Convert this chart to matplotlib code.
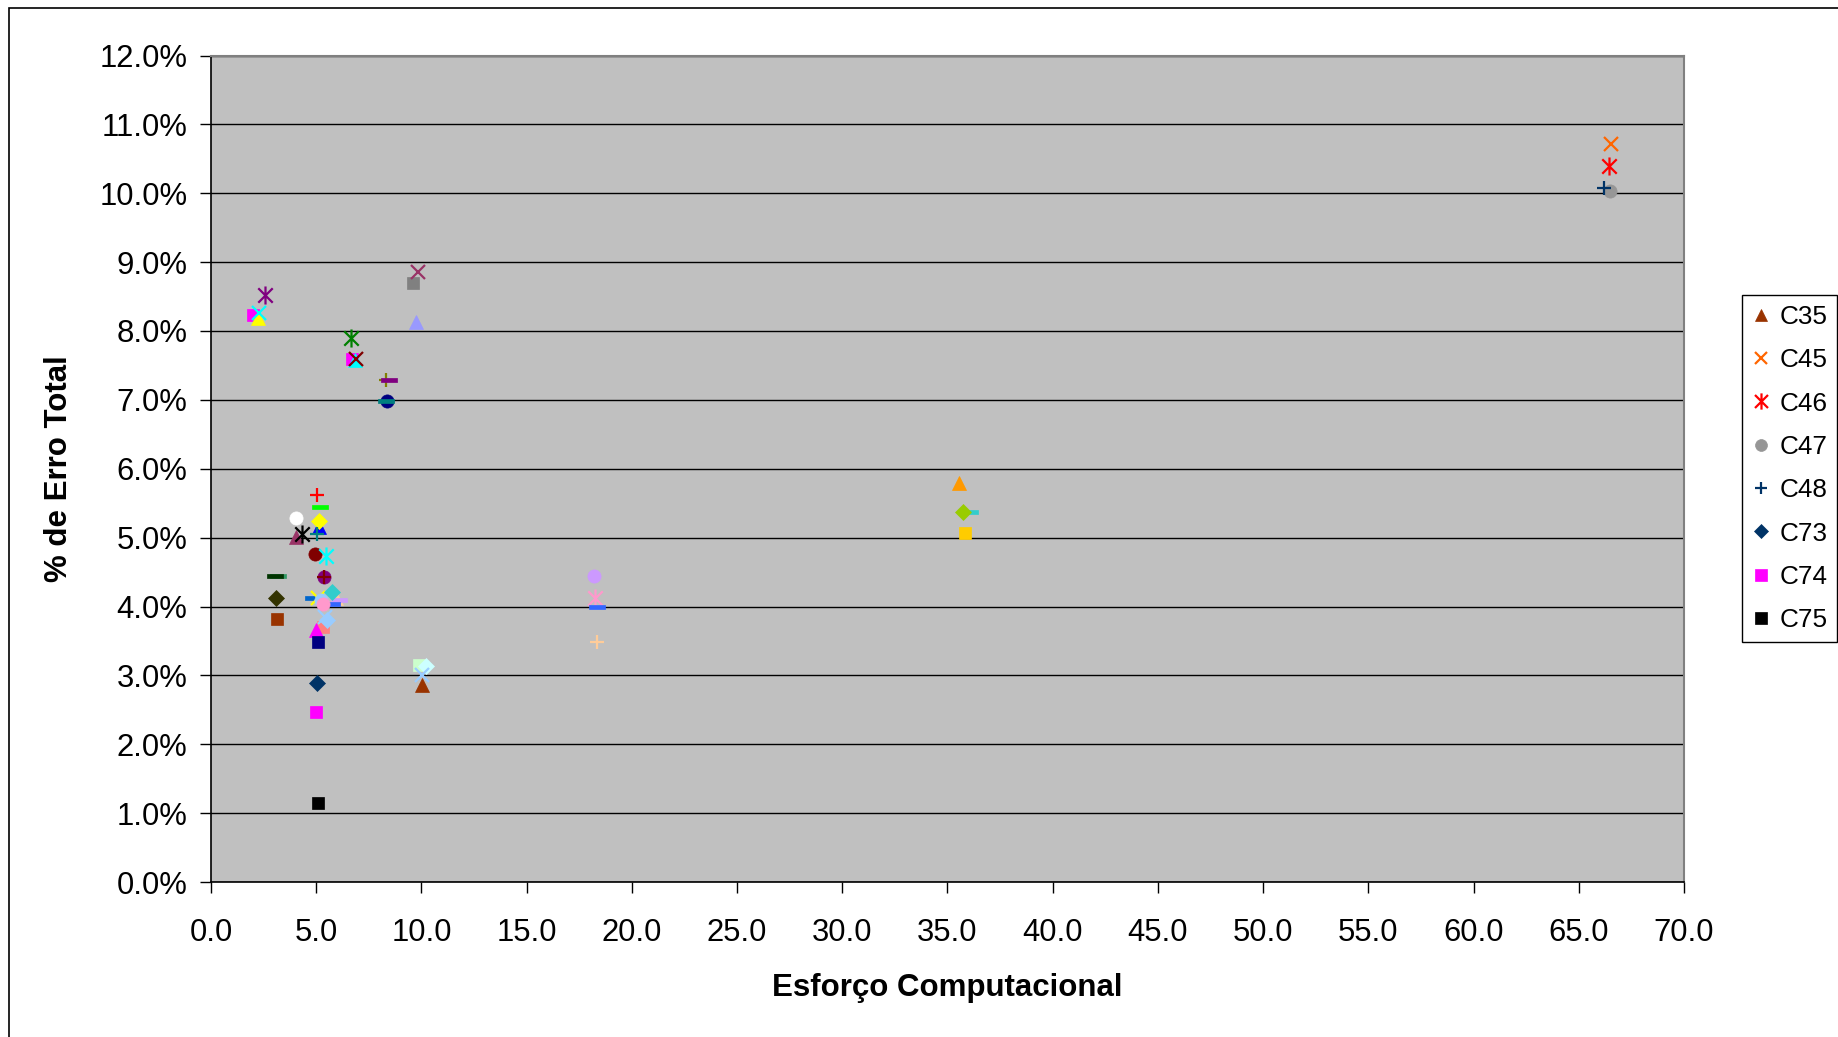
import matplotlib
matplotlib.use("Agg")
import matplotlib.pyplot as plt
from matplotlib.path import Path
from matplotlib.patches import Rectangle
from matplotlib.ticker import FuncFormatter

plt.rcParams['font.family'] = ['Liberation Sans', 'DejaVu Sans']

# ---- data (series shown in legend) ----
legend_names = ["C35", "C45", "C46", "C47", "C48", "C73", "C74", "C75"]
legend_x = [10.03, 66.54, 66.44, 66.49, 66.20, 5.04, 4.99, 5.09]
legend_y = [2.86, 10.71, 10.39, 10.03, 10.07, 2.89, 2.47, 1.15]

# ---- data (other series, not listed in legend) ----
other_x = [2.57, 2.00, 2.23, 2.28, 6.65, 6.70, 6.85, 6.90, 8.32, 8.46,
           9.60, 9.84, 9.74, 8.37, 8.30, 5.04, 5.18, 4.04, 5.13, 5.13,
           4.04, 4.32, 5.04, 4.94, 5.47, 3.18, 3.04, 5.37, 5.37, 3.09,
           3.14, 5.95, 6.10, 4.85, 5.10, 5.25, 5.75, 5.32, 5.75, 5.32,
           5.42, 5.51, 4.99, 5.09, 9.89, 10.20, 10.03, 18.20, 18.25, 18.35,
           18.35, 35.55, 36.07, 35.74, 35.84]
other_y = [8.52, 8.23, 8.19, 8.26, 7.90, 7.60, 7.58, 7.60, 7.29, 7.29,
           8.69, 8.85, 8.13, 6.98, 6.98, 5.62, 5.44, 5.28, 5.15, 5.24,
           5.01, 5.05, 5.05, 4.76, 4.73, 4.44, 4.44, 4.43, 4.43, 4.12,
           3.82, 4.12, 4.10, 4.12, 4.13, 4.10, 4.21, 3.70, 4.03, 4.03,
           3.85, 3.80, 3.66, 3.49, 3.15, 3.13, 3.00, 4.44, 4.12, 3.99,
           3.48, 5.79, 5.37, 5.37, 5.07]

x_ticks = [0, 5, 10, 15, 20, 25, 30, 35, 40, 45, 50, 55, 60, 65, 70]
y_ticks = [0, 1, 2, 3, 4, 5, 6, 7, 8, 9, 10, 11, 12]

# ---- styles ----
AST = Path([(0, -1), (0, 1), (-0.8, -0.8), (0.8, 0.8), (-0.8, 0.8), (0.8, -0.8)],
           [Path.MOVETO, Path.LINETO, Path.MOVETO, Path.LINETO, Path.MOVETO, Path.LINETO])
DASH = Path([(-1, -0.3), (1, -0.3), (1, 0.3), (-1, 0.3), (-1, -0.3)],
            [Path.MOVETO, Path.LINETO, Path.LINETO, Path.LINETO, Path.CLOSEPOLY])

legend_markers = ['^', 'x', AST, 'o', '+', 'D', 's', 's']
legend_colors = ['#993300', '#FF6600', '#FF0000', '#969696', '#003366',
                 '#003366', '#FF00FF', '#000000']

other_markers = [AST, 's', '^', 'x', AST, 's', '^', 'x', '+', DASH,
                 's', 'x', '^', 'o', DASH, '+', DASH, 'o', '^', 'D',
                 '^', AST, '+', 'o', AST, DASH, DASH, 'o', '+', 'D',
                 's', '^', DASH, DASH, 'x', 'o', 'D', 's', DASH, 'o',
                 'x', 'D', '^', 's', 's', 'D', 'x', 'o', AST, DASH,
                 '+', '^', DASH, 'D', 's']
other_colors = ['#800080', '#FF00FF', '#FFFF00', '#00FFFF', '#008000', '#FF00FF',
                '#00FFFF', '#800000', '#808000', '#800080',
                '#808080', '#993366', '#9999FF', '#000080', '#008080', '#FF0000',
                '#00FF00', '#FFFFFF', '#0000FF', '#FFFF00',
                '#993366', '#000000', '#008080', '#800000', '#00FFFF', '#339966',
                '#003300', '#800080', '#800000', '#333300',
                '#993300', '#FFCC99', '#CC99FF', '#0066CC', '#FFFF00', '#99CCFF',
                '#33CCCC', '#FF8080', '#3366FF', '#FF99CC',
                '#99CCFF', '#99CCFF', '#FF00FF', '#000080', '#CCFFCC', '#CCFFFF',
                '#99CCFF', '#CC99FF', '#FF99CC', '#3366FF',
                '#FFCC99', '#FF9900', '#33CCCC', '#99CC00', '#FFCC00']

LINE_MARKERS = ('x', '+')


def draw(ax, x, y, m, c, label):
    if m is AST:
        ax.plot([x], [y], linestyle='none', marker=m, markersize=13,
                markeredgecolor=c, markerfacecolor='none', markeredgewidth=1.6,
                label=label, zorder=3)
    elif m in LINE_MARKERS:
        ax.plot([x], [y], linestyle='none', marker=m, markersize=10,
                markeredgecolor=c, markerfacecolor='none', markeredgewidth=1.6,
                label=label, zorder=3)
    else:
        ms = {'s': 9, 'D': 8, '^': 10, 'o': 9.5}.get(m, 11)
        ax.plot([x], [y], linestyle='none', marker=m, markersize=ms,
                markeredgecolor=c, markerfacecolor=c, markeredgewidth=0.5,
                label=label, zorder=3)


W, H = 1838, 1037
fig = plt.figure(figsize=(W / 100, H / 100), dpi=100)
fig.patch.set_facecolor('white')
L, R, T, B = 211, 1684, 55.5, 882
ax = fig.add_axes([L / W, 1 - B / H, (R - L) / W, (B - T) / H])
ax.set_facecolor('#C0C0C0')

for x, y, m, c in zip(other_x, other_y, other_markers, other_colors):
    draw(ax, x, y, m, c, '_nolegend_')
for x, y, m, c, n in zip(legend_x, legend_y, legend_markers, legend_colors, legend_names):
    draw(ax, x, y, m, c, n)

ax.set_xlim(0, 70)
ax.set_ylim(0, 12)
ax.set_xticks(x_ticks)
ax.set_yticks(y_ticks)
ax.xaxis.set_major_formatter(FuncFormatter(lambda v, p: f"{v:.1f}"))
ax.yaxis.set_major_formatter(FuncFormatter(lambda v, p: f"{v:.1f}%"))
ax.tick_params(axis='both', direction='out', length=8, width=1.0, labelsize=22.3,
               colors='black')
ax.tick_params(axis='y', pad=9)
ax.tick_params(axis='x', pad=18)
ax.yaxis.grid(True, color='black', linewidth=1.0)
ax.xaxis.grid(False)
ax.set_axisbelow(True)
for s in ['left', 'bottom']:
    ax.spines[s].set_color('black')
    ax.spines[s].set_linewidth(1.2)
for s in ['top', 'right']:
    ax.spines[s].set_color('#808080')
    ax.spines[s].set_linewidth(1.5)

ax.set_xlabel('Esforço Computacional', fontsize=22.5, fontweight='bold', va='center')
ax.xaxis.set_label_coords(0.5, (B - 988) / (B - T))
ax.set_ylabel('% de Erro Total', fontsize=22.5, fontweight='bold', va='center')
ax.yaxis.set_label_coords((59 - L) / (R - L), 0.5)

handles, labels = ax.get_legend_handles_labels()
leg = fig.legend(handles, labels, loc='upper left',
                 bbox_to_anchor=(1742 / W, 1 - 295 / H),
                 fontsize=18.8, frameon=True, fancybox=False, framealpha=1,
                 edgecolor='black', handlelength=0.7, handletextpad=0.35,
                 labelspacing=0.74, borderpad=0.38, borderaxespad=0,
                 markerscale=0.9)
leg.get_frame().set_linewidth(1.0)

fig.add_artist(Rectangle((9 / W, -0.2), 1.5, 1 - 8 / H + 0.2, transform=fig.transFigure,
                         fill=False, edgecolor='black', linewidth=1.2))

fig.savefig('out.png', dpi=100)
